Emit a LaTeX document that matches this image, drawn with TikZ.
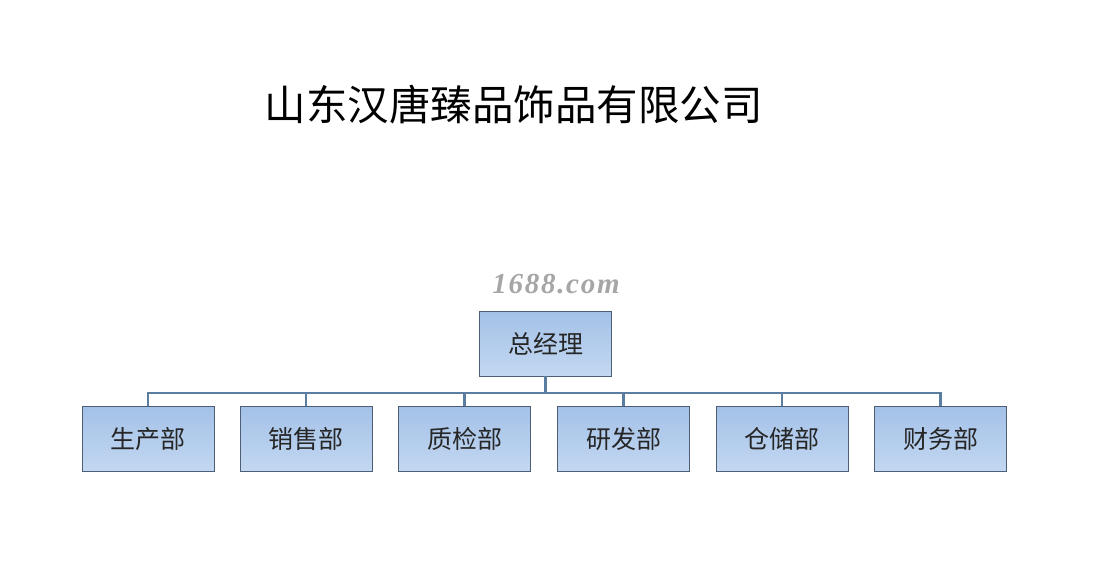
\documentclass[tikz,border=0pt]{standalone}
\usepackage{fontspec}
\newfontfamily\cjk{Noto Sans CJK SC}
\newfontfamily\wmfont[LetterSpace=6]{Liberation Serif}
\definecolor{boxtop}{HTML}{A3C1E8}
\definecolor{boxbot}{HTML}{C3D8F1}
\definecolor{boxline}{HTML}{4E5E74}
\definecolor{conn}{HTML}{5A7EA0}
\tikzset{
  dept/.style={draw=boxline, line width=0.8pt, top color=boxtop, bottom color=boxbot,
    minimum width=132pt, minimum height=65pt, inner sep=0pt,
    font=\cjk\fontsize{25}{25}\selectfont, text=black!85},
  link/.style={draw=conn, line width=2.2pt},
}
\begin{document}
\begin{tikzpicture}[x=1pt,y=-1pt]
\useasboundingbox (0,0) rectangle (1111,563);
\node[anchor=center, font=\cjk\fontsize{41.5}{41.5}\selectfont] (title) at (513.5,105) {山东汉唐臻品饰品有限公司};
\node[font=\wmfont\bfseries\itshape\fontsize{29}{29}\selectfont, text=black!35] (wm) at (556,284) {1688.com};
\node[dept] (gm) at (545.5,343.5) {总经理};
\node[dept] (d1) at (148,439) {生产部};
\node[dept] (d2) at (306,439) {销售部};
\node[dept] (d3) at (464.5,439) {质检部};
\node[dept] (d4) at (623.5,439) {研发部};
\node[dept] (d5) at (782,439) {仓储部};
\node[dept] (d6) at (940.5,439) {财务部};
\coordinate (bus) at (545.5,393);
\draw[link] (gm.south) -- (bus);
\foreach \d in {d1,d2,d3,d4,d5,d6}{
  \draw[link] (bus) -| (\d.north);
}
\end{tikzpicture}
\end{document}
